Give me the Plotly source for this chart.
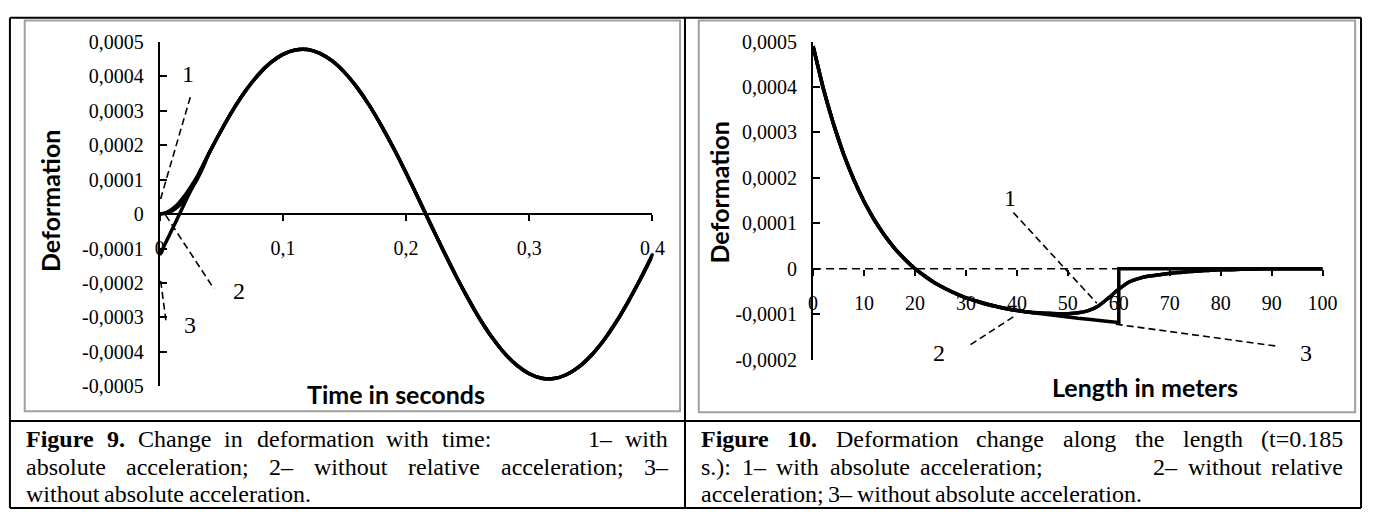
import plotly.graph_objects as go

W, H = 1378, 521

# ---------------- Figure 9: deformation vs time ----------------
time_s = [0, 0.005, 0.01, 0.015, 0.02, 0.025, 0.03, 0.035,
          0.04, 0.05, 0.06, 0.07, 0.08, 0.09, 0.10, 0.11, 0.12, 0.13,
          0.14, 0.15, 0.16, 0.17, 0.18, 0.19, 0.20, 0.21, 0.22, 0.23,
          0.24, 0.25, 0.26, 0.27, 0.28, 0.29, 0.30, 0.31, 0.32, 0.33,
          0.34, 0.35, 0.36, 0.37, 0.38, 0.39, 0.40]

# shared part of the oscillation once the start-up transient has died out
time_tail = [0.000176, 0.000243, 0.000305, 0.000359, 0.000404, 0.000439,
             0.000463, 0.000476, 0.000477, 0.000466, 0.000444, 0.000411,
             0.000368, 0.000316, 0.000256, 0.000190, 0.000119, 0.000045,
             -0.000030, -0.000104, -0.000176, -0.000243, -0.000305,
             -0.000359, -0.000404, -0.000439, -0.000463, -0.000476,
             -0.000477, -0.000466, -0.000444, -0.000411, -0.000368,
             -0.000316, -0.000256, -0.000190, -0.000119]

t_with_abs_head = [0, 0.000004, 0.000014, 0.000030, 0.000052, 0.000078, 0.000106, 0.000140]
t_no_rel_head = [0, 0.000002, 0.000009, 0.000022, 0.000042, 0.000068, 0.000098, 0.000134]
t_no_abs_head = [-0.000119, -0.000082, -0.000045, -0.000008, 0.000030, 0.000067, 0.000104, 0.000141]

t_tickvals = [0, 0.1, 0.2, 0.3, 0.4]
t_ticktext = ["0", "0,1", "0,2", "0,3", "0,4"]
d9_tickvals = [-0.0005, -0.0004, -0.0003, -0.0002, -0.0001, 0,
               0.0001, 0.0002, 0.0003, 0.0004, 0.0005]
d9_ticktext = ["-0,0005", "-0,0004", "-0,0003", "-0,0002", "-0,0001", "0",
               "0,0001", "0,0002", "0,0003", "0,0004", "0,0005"]

# ---------------- Figure 10: deformation along the length ----------------
length_m = [0, 2, 4, 6, 8, 10, 12, 14, 16, 18, 20, 22, 24, 26, 28, 30,
            32, 34, 36, 38, 40, 42, 44, 46, 48, 50, 52, 54, 56, 58, 60,
            62, 64, 66, 68, 70, 72, 74, 76, 78, 80, 82, 84, 86, 88, 90,
            92, 94, 96, 98, 100]

# common decay for 0..40 m
len_head = [0.000490, 0.000397, 0.000319, 0.000252, 0.000196, 0.000148,
            0.000108, 0.000074, 0.000045, 0.000021, 0.000000, -0.000017,
            -0.000032, -0.000044, -0.000055, -0.000064, -0.000071,
            -0.000078, -0.000083, -0.000088, -0.000092]

# 42..100 m, with absolute acceleration (smooth return to zero)
len_with_abs_tail = [-0.000095, -0.000097, -0.000098, -0.000099, -0.000099,
                     -0.000097, -0.000092, -0.000082, -0.000064, -0.000045,
                     -0.000029, -0.000021, -0.000016, -0.000013, -0.000010,
                     -0.000008, -0.000006, -0.000005, -0.000003, -0.000002,
                     -0.000002, -0.000001, -0.000001, 0, 0, 0, 0, 0, 0, 0]

# 42..60 m without absolute acceleration, then a jump to zero at 60 m
len_no_abs_tail = [-0.000095, -0.000098, -0.000101, -0.000104, -0.000106,
                   -0.000109, -0.000111, -0.000114, -0.000116, -0.000118]
len_no_abs_after = [0, 0, 0, 0, 0, 0, 0, 0, 0, 0, 0, 0, 0, 0, 0, 0, 0, 0, 0, 0, 0]

l_tickvals = [0, 10, 20, 30, 40, 50, 60, 70, 80, 90, 100]
l_ticktext = ["0", "10", "20", "30", "40", "50", "60", "70", "80", "90", "100"]
d10_tickvals = [-0.0002, -0.0001, 0, 0.0001, 0.0002, 0.0003, 0.0004, 0.0005]
d10_ticktext = ["-0,0002", "-0,0001", "0", "0,0001", "0,0002", "0,0003",
                "0,0004", "0,0005"]

# ---------------- captions ----------------
caption9_lines = [
    "Figure 9. Change in deformation with time:       1– with",
    "absolute acceleration; 2– without relative acceleration; 3–",
    "without absolute acceleration.",
]
caption10_lines = [
    "Figure 10. Deformation change along the length (t=0.185",
    "s.): 1– with absolute acceleration;          2– without relative",
    "acceleration; 3– without absolute acceleration.",
]

# ---------------------------------------------------------------------
SERIF = "Liberation Serif"
SANS = "Lato"
CURVE = dict(color="black", width=3.5)


def px(x):
    return x / W


def py(y):
    return 1 - y / H


# subplot placement (pixels)
F9_X = (157, 657)
F9_Y = (392, 32)       # bottom, top
F10_X = (820, 1337)
F10_Y = (364, 32)

f9_ydom = [py(F9_Y[0]), py(F9_Y[1])]
f10_ydom = [py(F10_Y[0]), py(F10_Y[1])]
f9_yr = [-0.0005, 0.0005]
f10_yr = [-0.0002, 0.0005]


def zero_pos(dom, rng):
    return dom[0] + (0 - rng[0]) / (rng[1] - rng[0]) * (dom[1] - dom[0])


fig = go.Figure()

# time chart: without absolute / without relative / with absolute acceleration
for head in (t_no_abs_head, t_no_rel_head, t_with_abs_head):
    fig.add_trace(go.Scatter(x=time_s, y=head + time_tail, mode="lines",
                             line=dict(shape="spline", smoothing=0.6, **CURVE),
                             xaxis="x", yaxis="y"))

# length chart: step case, then the two smooth cases
len_step_x = length_m[:31] + [60] + length_m[31:]
fig.add_trace(go.Scatter(x=len_step_x, y=len_head + len_no_abs_tail + len_no_abs_after,
                         mode="lines", line=dict(shape="linear", **CURVE),
                         xaxis="x2", yaxis="y2"))
for _ in range(2):
    fig.add_trace(go.Scatter(x=length_m, y=len_head + len_with_abs_tail, mode="lines",
                             line=dict(shape="spline", smoothing=0.5, **CURVE),
                             xaxis="x2", yaxis="y2"))

tick_font = dict(family=SERIF, size=20, color="black")
common_x = dict(showgrid=False, zeroline=False, ticks="outside", ticklen=6,
                tickwidth=2, tickcolor="black", tickfont=tick_font,
                anchor="free", ticklabelstandoff=10)
common_y = dict(showgrid=False, zeroline=False, ticks="inside", ticklen=7,
                tickwidth=2, tickcolor="black", tickfont=tick_font,
                showline=True, linecolor="black", linewidth=2,
                ticklabelstandoff=10)

fig.update_layout(
    width=W, height=H, margin=dict(l=0, r=0, t=0, b=0),
    paper_bgcolor="white", plot_bgcolor="rgba(0,0,0,0)",
    showlegend=False, hovermode=False,
    xaxis=dict(domain=[px(F9_X[0]), px(F9_X[1])], range=[0, 0.4],
               position=zero_pos(f9_ydom, f9_yr), showline=True,
               linecolor="black", linewidth=2,
               tickvals=t_tickvals, ticktext=t_ticktext, **common_x),
    yaxis=dict(domain=f9_ydom, range=f9_yr, anchor="x",
               tickvals=d9_tickvals, ticktext=d9_ticktext, **common_y),
    xaxis2=dict(domain=[px(F10_X[0]), px(F10_X[1])], range=[0, 100],
                position=zero_pos(f10_ydom, f10_yr), showline=False,
                tickvals=l_tickvals, ticktext=l_ticktext, **common_x),
    yaxis2=dict(domain=f10_ydom, range=f10_yr, anchor="x2",
                tickvals=d10_tickvals, ticktext=d10_ticktext, **common_y),
)

shapes = []
# table grid
for (x0, y0, x1, y1) in [(5, 7, 1376, 7), (5, 519, 1376, 519), (5, 7, 5, 519),
                         (1376, 7, 1376, 519), (690, 7, 690, 519),
                         (5, 428, 1376, 428)]:
    shapes.append(dict(type="line", xref="paper", yref="paper",
                       x0=px(x0), y0=py(y0), x1=px(x1), y1=py(y1),
                       line=dict(color="black", width=2)))
# chart-area frames
for (x0, y0, x1, y1) in [(20, 10, 685, 418), (704, 10, 1370, 419)]:
    shapes.append(dict(type="rect", xref="paper", yref="paper",
                       x0=px(x0), y0=py(y0), x1=px(x1), y1=py(y1),
                       line=dict(color="#a0a0a0", width=2)))
# dashed zero line of the length chart
shapes.append(dict(type="line", xref="x2", yref="y2", x0=0, y0=0, x1=100, y1=0,
                   layer="below", line=dict(color="black", width=1.5, dash="8px,5px")))

LEAD = dict(color="black", width=1.6, dash="7px,4px")
leaders9 = [((0.0248, 0.000339), (0.0, 0.000035)),
            ((0.0048, -0.000003), (0.044, -0.000217)),
            ((0.0008, -0.000194), (0.0050, -0.000308))]
for (a, b) in leaders9:
    shapes.append(dict(type="line", xref="x", yref="y", x0=a[0], y0=a[1],
                       x1=b[0], y1=b[1], line=LEAD))
leaders10 = [((39.3, 0.000124), (55.7, -0.000076)),
             ((30.9, -0.000167), (39.7, -0.000103)),
             ((59.4, -0.000122), (91.5, -0.000171))]
for (a, b) in leaders10:
    shapes.append(dict(type="line", xref="x2", yref="y2", x0=a[0], y0=a[1],
                       x1=b[0], y1=b[1], line=LEAD))

ann = []
label_font = dict(family=SERIF, size=24, color="black")
for (txt, x, y) in [("1", 0.0232, 0.000406), ("2", 0.064, -0.000222), ("3", 0.0248, -0.000322)]:
    ann.append(dict(text=txt, x=x, y=y, xref="x", yref="y", showarrow=False, font=label_font))
for (txt, x, y) in [("1", 38.7, 0.000156), ("2", 24.8, -0.000186), ("3", 96.7, -0.000186)]:
    ann.append(dict(text=txt, x=x, y=y, xref="x2", yref="y2", showarrow=False, font=label_font))

title_font = dict(family=SANS, size=25, color="black", weight="bold")
for (txt, x, y, ang) in [("Deformation", 45, 198, -90), ("Time in seconds", 397, 400, 0),
                         ("Deformation", 725, 189, -90), ("Length in meters", 1157, 393, 0)]:
    ann.append(dict(text=txt, x=px(x), y=py(y), xref="paper", yref="paper",
                    xanchor="center", yanchor="middle",
                    showarrow=False, textangle=ang, font=title_font))

# Times New Roman advance widths (per 1000 em); Liberation Serif shares them
TNR = {" ": 250, ".": 250, ",": 250, ":": 278, ";": 278, "(": 333, ")": 333,
       "=": 564, "–": 500, "a": 444, "b": 500, "c": 444, "d": 500, "e": 444,
       "f": 333, "g": 500, "h": 500, "i": 278, "l": 278, "m": 778, "n": 500,
       "o": 500, "r": 333, "s": 389, "t": 278, "u": 500, "v": 500, "w": 722,
       "C": 667, "D": 722, "F": 556}
TNR_B = {"F": 611, "i": 278, "g": 500, "u": 556, "r": 444, "e": 444, ".": 250}


def word_width(w, bold, size):
    tot = 0
    for ch in w:
        if ch.isdigit():
            tot += 500
        elif bold:
            tot += TNR_B.get(ch, TNR.get(ch, 500))
        else:
            tot += TNR.get(ch, 500)
    return tot * size / 1000.0


CAP_SIZE = 24


def caption(lines, left, right, ys, justify):
    """Lay out caption words; justified lines stretch every space equally."""
    for li, (line, y, just) in enumerate(zip(lines, ys, justify)):
        parts = line.split(" ")
        words, gaps = [], []
        pending = 0
        for p in parts:
            if p == "":
                pending += 1
                continue
            if words:
                gaps.append(1 + pending)
            pending = 0
            words.append(p)
        bold = [li == 0 and i < 2 for i in range(len(words))]
        widths = [word_width(w, b, CAP_SIZE) for w, b in zip(words, bold)]
        if just and gaps:
            unit = (right - left - sum(widths)) / sum(gaps)
        else:
            unit = 0.25 * CAP_SIZE
        x = left
        for i, w in enumerate(words):
            ann.append(dict(text=("<b>%s</b>" % w) if bold[i] else w,
                            x=px(x), y=py(y), xref="paper", yref="paper",
                            xanchor="left", yanchor="middle", showarrow=False,
                            borderpad=0, borderwidth=0,
                            font=dict(family=SERIF, size=CAP_SIZE, color="black")))
            x += widths[i]
            if i < len(gaps):
                x += gaps[i] * unit


caption(caption9_lines, 21, 672, [447, 476, 504], [True, True, False])
caption(caption10_lines, 706, 1357, [447, 476, 504], [True, True, False])

fig.update_layout(shapes=shapes, annotations=ann)
fig.write_html("out.html")
